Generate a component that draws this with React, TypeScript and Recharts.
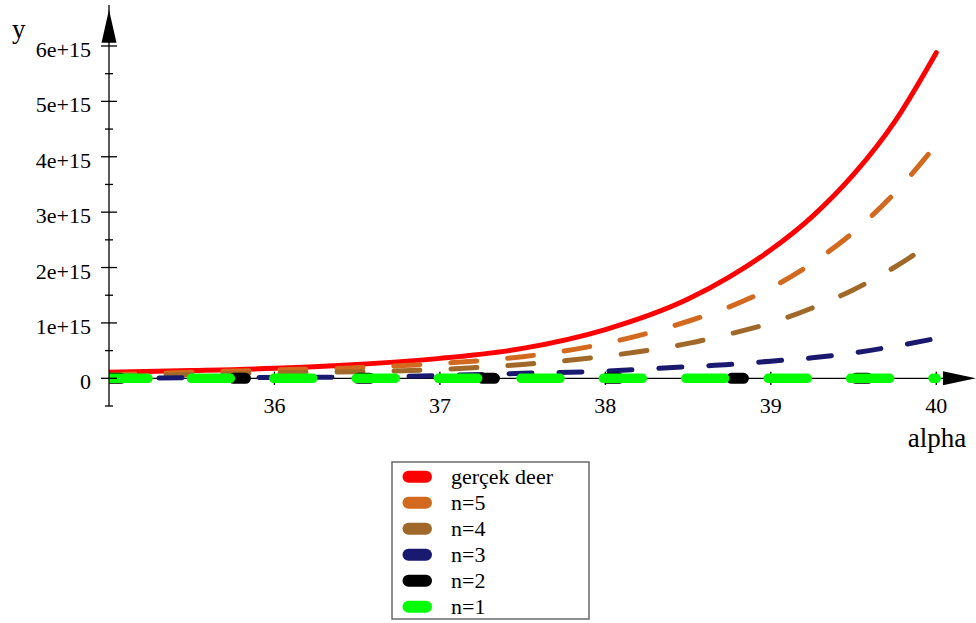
import React from "react";
import { LineChart, Line, XAxis, YAxis, ReferenceLine, ReferenceDot } from "recharts";

// x values (alpha)
const alpha = [35, 35.5, 36, 36.5, 37, 37.5, 38, 38.5, 38.75, 39, 39.25, 39.5, 39.75, 40];

// series values (y)
const gercekDeer = [0.11e15, 0.14e15, 0.18e15, 0.25e15, 0.36e15, 0.54e15, 0.88e15, 1.43e15, 1.83e15, 2.32e15, 2.92e15, 3.68e15, 4.64e15, 5.88e15];
const n5 = [0.06e15, 0.11e15, 0.15e15, 0.19e15, 0.27e15, 0.39e15, 0.63e15, 1.03e15, 1.29e15, 1.63e15, 2.08e15, 2.64e15, 3.35e15, 4.22e15];
const n4 = [0.04e15, 0.07e15, 0.1e15, 0.12e15, 0.16e15, 0.25e15, 0.4e15, 0.63e15, 0.8e15, 1.0e15, 1.27e15, 1.6e15, 2.01e15, 2.5e15];
const n3 = [0, 0.01e15, 0.015e15, 0.025e15, 0.05e15, 0.09e15, 0.13e15, 0.21e15, 0.25e15, 0.31e15, 0.37e15, 0.46e15, 0.58e15, 0.72e15];
const n2 = [0, 0, 0, 0, 0, 0, 0, 0, 0, 0, 0, 0, 0, 0];
const n1 = [0, 0, 0, 0, 0, 0, 0, 0, 0, 0, 0, 0, 0, 0];

// tick labels
const xTicks = [36, 37, 38, 39, 40];
const yTicks = [-0.5e15, 0, 0.5e15, 1e15, 1.5e15, 2e15, 2.5e15, 3e15, 3.5e15, 4e15, 4.5e15, 5e15, 5.5e15, 6e15];
const xLabel = "alpha";
const yLabel = "y";

const seriesNames = ["gerçek deer", "n=5", "n=4", "n=3", "n=2", "n=1"];
const seriesKeys = ["s0", "s1", "s2", "s3", "s4", "s5"];
const seriesColors = ["#FF0000", "#D2691E", "#A0692A", "#191970", "#000000", "#00FF00"];
const seriesWidths = [5, 5, 5, 5, 11, 9.5];
const seriesDash = [undefined, "26 31", "26 31", "23 27", "12 112.5", "39 43.4"];
const seriesValues = [gercekDeer, n5, n4, n3, n2, n1];

const data = alpha.map((a, i) => {
  const row: any = { alpha: a };
  seriesKeys.forEach((k, j) => {
    row[k] = seriesValues[j][i];
  });
  return row;
});

const FONT = "'Liberation Serif', 'Times New Roman', Times, serif";
const textStyle = { fontFamily: FONT };

const fmtY = (v: number) => (v === 0 ? "0" : `${v / 1e15}e+15`);

const YTick = (props: any) => {
  const { x, y, payload } = props;
  const v = payload.value as number;
  const major = Math.abs(v / 1e15 - Math.round(v / 1e15)) < 1e-9 && v >= 0;
  return (
    <g>
      <line x1={x - (major ? 8 : 4)} x2={x + (major ? 8 : 4)} y1={y} y2={y} stroke="#000" strokeWidth={1.3} />
      {major && (
        <text x={x - 18} y={y + 11} textAnchor="end" style={textStyle} fontSize={22} fill="#000">
          {fmtY(v)}
        </text>
      )}
    </g>
  );
};

const XTick = (props: any) => {
  const { x, y, payload } = props;
  return (
    <text x={x} y={y + 7} textAnchor="middle" style={textStyle} fontSize={22} fill="#000">
      {payload.value}
    </text>
  );
};

const XArrow = (p: any) => (
  <polygon points={`${p.cx},${p.cy - 7} ${p.cx + 33},${p.cy} ${p.cx},${p.cy + 7}`} fill="#000" />
);
const YArrow = (p: any) => (
  <polygon points={`${p.cx - 7.5},${p.cy} ${p.cx},${p.cy - 33} ${p.cx + 7.5},${p.cy}`} fill="#000" />
);

export default function App() {
  return (
    <div style={{ position: "absolute", left: 0, top: 0, width: 976, height: 623, background: "#fff", fontFamily: FONT }}>
      <LineChart
        width={976}
        height={623}
        data={data}
        margin={{ top: 5, right: 0, bottom: 187, left: 0 }}
      >
        <XAxis
          dataKey="alpha"
          type="number"
          domain={[35, 40.24]}
          allowDataOverflow
          ticks={xTicks}
          axisLine={false}
          tickLine={false}
          tickSize={0}
          tickMargin={0}
          height={30}
          tick={<XTick />}
          interval={0}
        />
        <YAxis
          type="number"
          domain={[-0.5e15, 6.74e15]}
          allowDataOverflow
          ticks={yTicks}
          width={109}
          axisLine={{ stroke: "#000", strokeWidth: 1.3 }}
          tickLine={false}
          tickSize={0}
          tickMargin={0}
          tick={<YTick />}
          interval={0}
        />
        <ReferenceLine
          segment={[{ x: 35, y: 0 }, { x: 40.05, y: 0 }]}
          stroke="#000"
          strokeWidth={1.3}
          ifOverflow="visible"
        />
        {xTicks.map((t) => (
          <ReferenceLine
            key={t}
            segment={[{ x: t, y: -0.12e15 }, { x: t, y: 0.12e15 }]}
            stroke="#000"
            strokeWidth={1.3}
            ifOverflow="visible"
          />
        ))}
        {seriesKeys.map((k, j) => (
          <Line
            key={k}
            dataKey={k}
            name={seriesNames[j]}
            type="monotone"
            stroke={seriesColors[j]}
            strokeWidth={seriesWidths[j]}
            strokeDasharray={seriesDash[j]}
            strokeLinecap="round"
            dot={false}
            activeDot={false}
            isAnimationActive={false}
          />
        ))}
        <ReferenceDot x={40.04} y={0} r={0} shape={<XArrow />} ifOverflow="visible" />
        <ReferenceDot x={35} y={6.06e15} r={0} shape={<YArrow />} ifOverflow="visible" />
      </LineChart>
      <svg
        width={976}
        height={623}
        style={{ position: "absolute", left: 0, top: 0, pointerEvents: "none" }}
      >
        <text x={12} y={38} style={textStyle} fontSize={27} fill="#000">
          {yLabel}
        </text>
        <text x={937} y={447} textAnchor="middle" style={textStyle} fontSize={27} fill="#000">
          {xLabel}
        </text>
        <rect x={392} y={462} width={197} height={157} fill="#fff" stroke="#6a6a6a" strokeWidth={1.5} />
        {seriesNames.map((n, i) => (
          <g key={n}>
            <line
              x1={408.5}
              x2={426}
              y1={476.7 + 26 * i}
              y2={476.7 + 26 * i}
              stroke={seriesColors[i]}
              strokeWidth={12}
              strokeLinecap="round"
            />
            <text x={451} y={484 + 26 * i} style={textStyle} fontSize={22} fill="#000">
              {n}
            </text>
          </g>
        ))}
      </svg>
    </div>
  );
}
